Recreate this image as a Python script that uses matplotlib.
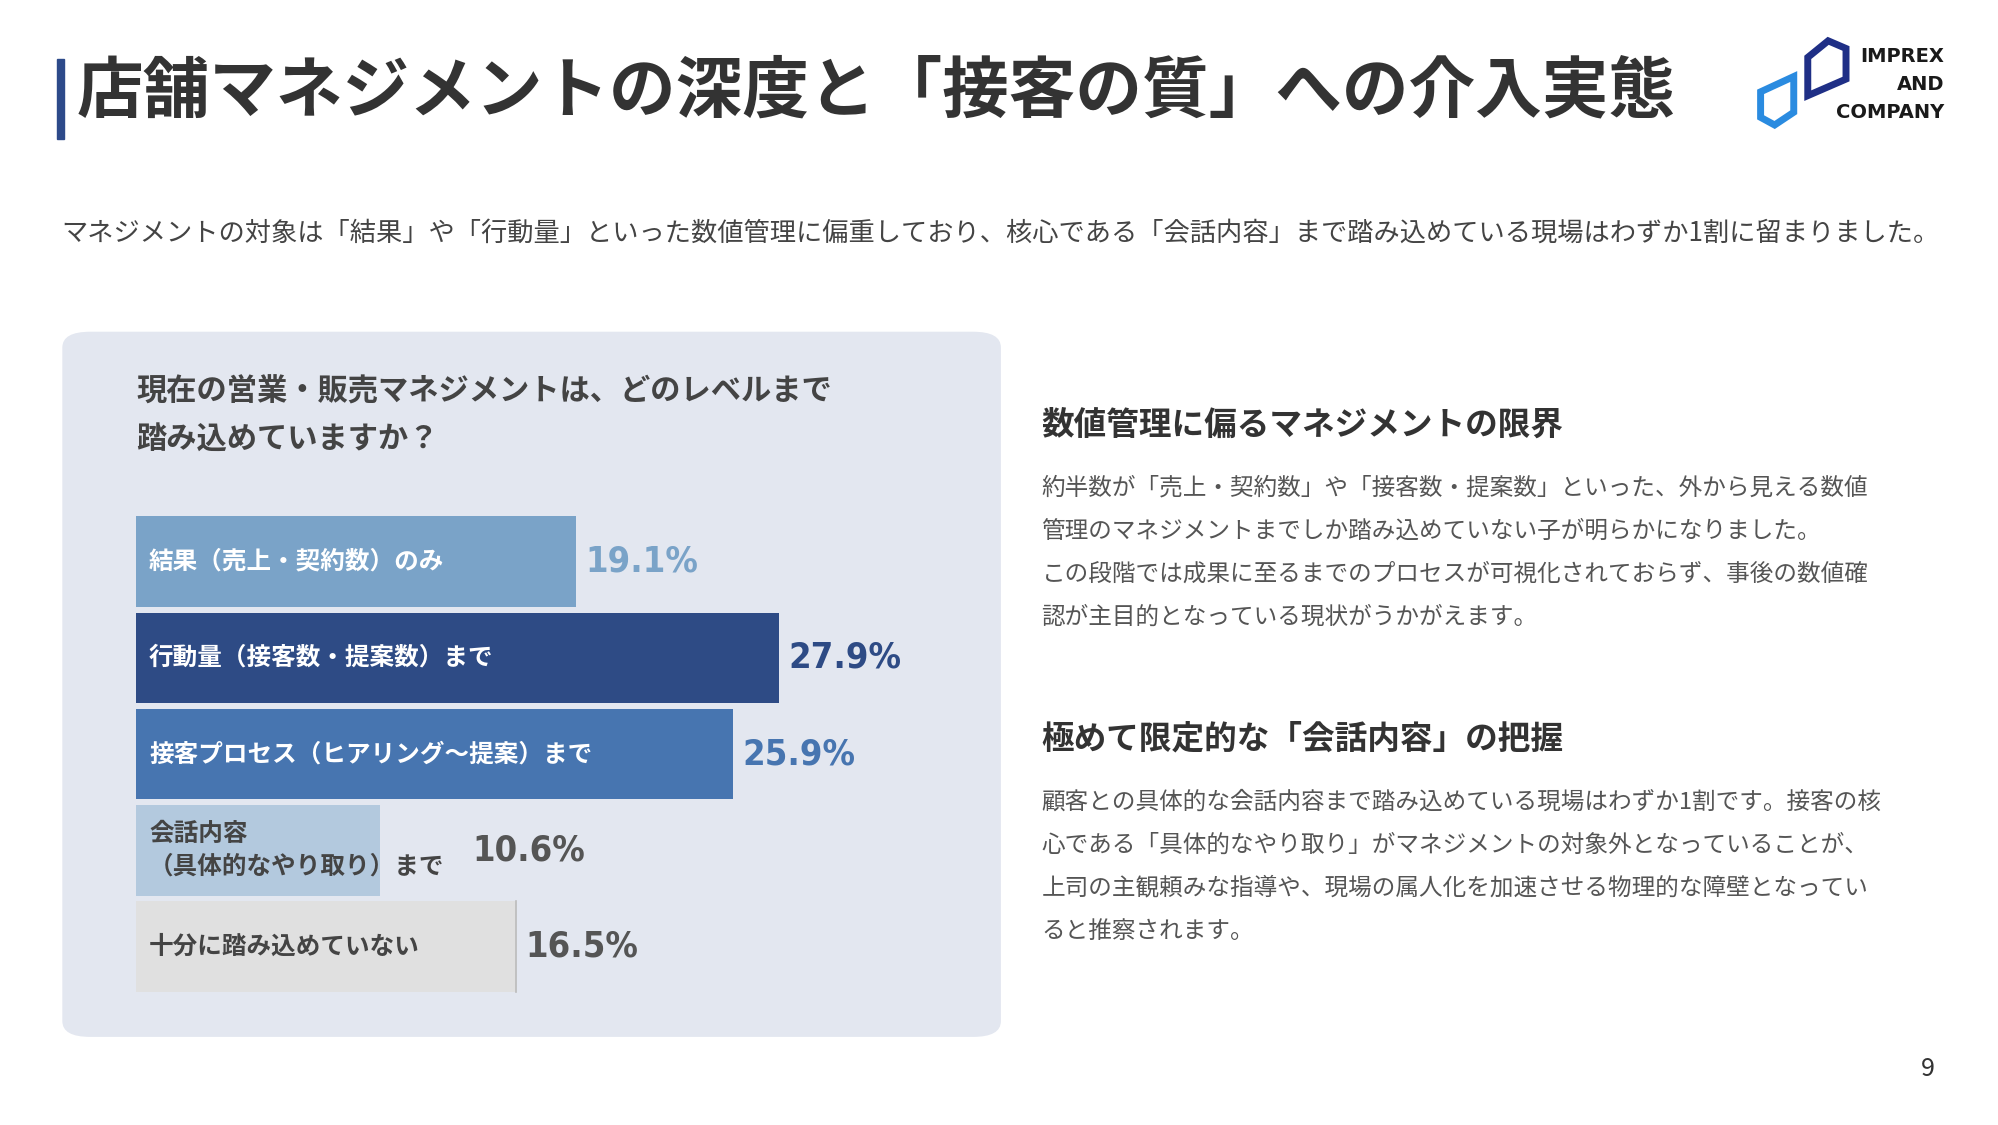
import matplotlib.pyplot as plt
from matplotlib.patches import FancyBboxPatch, Rectangle, Polygon

plt.rcParams['font.family'] = ['Noto Sans CJK JP', 'DejaVu Sans']

categories = ['結果（売上・契約数）のみ', '行動量（接客数・提案数）まで', '接客プロセス（ヒアリング～提案）まで',
              '会話内容\n（具体的なやり取り）まで', '十分に踏み込めていない']
values = [19.1, 27.9, 25.9, 10.6, 16.5]
bar_colors = ['#7aa3c8', '#2e4b85', '#4775b0', '#b3c9de', '#e0e0e0']
label_colors = ['white', 'white', 'white', '#444444', '#444444']
value_colors = ['#7aa3c8', '#2e4b85', '#4775b0', '#555555', '#555555']

W, H = 1568, 882
fig = plt.figure(figsize=(19.99, 11.25), dpi=100)


def fx(x):
    return x / W


def fy(y):
    return 1 - y / H


# title
fig.patches.append(Rectangle((fx(45), fy(109)), fx(5), 63 / H, transform=fig.transFigure,
                             color='#2d4a8a'))
fig.text(fx(60), fy(72), '店舗マネジメントの深度と「接客の質」への介入実態', fontsize=48,
         fontweight='bold', color='#333333', va='center')
fig.text(fx(48), fy(183), 'マネジメントの対象は「結果」や「行動量」といった数値管理に偏重しており、核心である「会話内容」まで踏み込めている現場はわずか1割に留まりました。',
         fontsize=18.9, color='#444444', va='center')

# logo
fig.patches.append(Polygon([(fx(1418), fy(45)), (fx(1434), fy(32)), (fx(1448), fy(38)),
                            (fx(1448), fy(62)), (fx(1418), fy(75))], closed=True,
                           transform=fig.transFigure, fill=False, ec='#1f2f86', lw=5))
fig.patches.append(Polygon([(fx(1381), fy(72)), (fx(1407), fy(60)), (fx(1407), fy(88)),
                            (fx(1392), fy(98)), (fx(1381), fy(92))], closed=True,
                           transform=fig.transFigure, fill=False, ec='#2a8be0', lw=5))
for t, y in [('IMPREX', 44), ('AND', 66), ('COMPANY', 88)]:
    fig.text(fx(1525), fy(y), t, fontsize=14, fontweight='bold', color='#1a1a1a',
             ha='right', va='center', family=['DejaVu Sans'])

# panel
fig.patches.append(FancyBboxPatch((fx(63), fy(805)), fx(708), (805 - 268) / H,
                                  boxstyle='round,pad=0.009,rounding_size=0.014',
                                  transform=fig.transFigure, fc='#e3e7f0', ec='none',
                                  zorder=-1))
fig.text(fx(107), fy(307), '現在の営業・販売マネジメントは、どのレベルまで', fontsize=21.8,
         fontweight='bold', color='#444444', va='center')
fig.text(fx(107), fy(345), '踏み込めていますか？', fontsize=21.8,
         fontweight='bold', color='#444444', va='center')

# bars
px_per = 18.06
xmax = 40
ax = fig.add_axes([fx(107), fy(780), fx(px_per * xmax), (780 - 402.5) / H])
ax.set_zorder(2)
ax.patch.set_alpha(0)
ax.set_xlim(0, xmax)
ax.set_ylim(4.5, -0.5)
ax.axis('off')
ypos = list(range(len(values)))
ax.barh(ypos, values, height=0.94, color=bar_colors)
ax.plot([values[4], values[4]], [4 - 0.47, 4 + 0.47], color='#bbbbbb', lw=1.2)
for i, (c, v) in enumerate(zip(categories, values)):
    ax.text(0.55, i, c, color=label_colors[i], fontsize=17.7, fontweight='bold', va='center',
            linespacing=1.45)
    vx = v + 0.4
    if i == 3:
        vx = 14.6
    ax.text(vx, i, f'{v}%', color=value_colors[i], fontsize=26, fontweight='bold',
            va='center', family=['DejaVu Sans'], fontstretch='condensed')

# right side text
fig.text(fx(817), fy(333), '数値管理に偏るマネジメントの限界', fontsize=23.5, fontweight='bold',
         color='#333333', va='center')
body1 = ['約半数が「売上・契約数」や「接客数・提案数」といった、外から見える数値',
         '管理のマネジメントまでしか踏み込めていない子が明らかになりました。',
         'この段階では成果に至るまでのプロセスが可視化されておらず、事後の数値確',
         '認が主目的となっている現状がうかがえます。']
for i, line in enumerate(body1):
    fig.text(fx(817), fy(383 + 33.7 * i), line, fontsize=17, color='#555555', va='center')
fig.text(fx(817), fy(579), '極めて限定的な「会話内容」の把握', fontsize=23.5, fontweight='bold',
         color='#333333', va='center')
body2 = ['顧客との具体的な会話内容まで踏み込めている現場はわずか1割です。接客の核',
         '心である「具体的なやり取り」がマネジメントの対象外となっていることが、',
         '上司の主観頼みな指導や、現場の属人化を加速させる物理的な障壁となってい',
         'ると推察されます。']
for i, line in enumerate(body2):
    fig.text(fx(817), fy(629 + 33.7 * i), line, fontsize=17, color='#555555', va='center')

fig.text(fx(1512), fy(838), '9', fontsize=18, color='#333333', ha='center', va='center')

fig.savefig('out.png', dpi=100, facecolor='white')
